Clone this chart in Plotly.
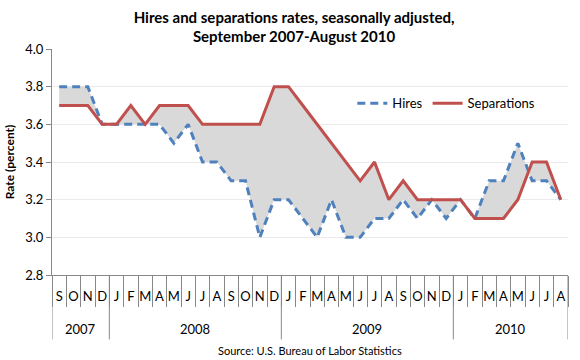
import plotly.graph_objects as go

years = ["2007"] * 4 + ["2008"] * 12 + ["2009"] * 12 + ["2010"] * 8
months = ["S", "O", "N", "D",
          "J", "F", "M", "A", "M", "J", "J", "A", "S", "O", "N", "D",
          "J", "F", "M", "A", "M", "J", "J", "A", "S", "O", "N", "D",
          "J", "F", "M", "A", "M", "J", "J", "A"]

hires = [3.8, 3.8, 3.8, 3.6,
         3.6, 3.6, 3.6, 3.6, 3.5, 3.6, 3.4, 3.4, 3.3, 3.3, 3.0, 3.2,
         3.2, 3.1, 3.0, 3.2, 3.0, 3.0, 3.1, 3.1, 3.2, 3.1, 3.2, 3.1,
         3.2, 3.1, 3.3, 3.3, 3.5, 3.3, 3.3, 3.2]
separations = [3.7, 3.7, 3.7, 3.6,
               3.6, 3.7, 3.6, 3.7, 3.7, 3.7, 3.6, 3.6, 3.6, 3.6, 3.6, 3.8,
               3.8, 3.7, 3.6, 3.5, 3.4, 3.3, 3.4, 3.2, 3.3, 3.2, 3.2, 3.2,
               3.2, 3.1, 3.1, 3.1, 3.2, 3.4, 3.4, 3.2]

idx = list(range(len(months)))
FONT = "Lato"
AXC = "#888888"

fig = go.Figure()
# shaded band between the two series
fig.add_trace(go.Scatter(x=idx, y=hires, mode="lines", line=dict(width=0),
                         showlegend=False, hoverinfo="skip"))
fig.add_trace(go.Scatter(x=idx, y=separations, mode="lines", line=dict(width=0),
                         fill="tonexty", fillcolor="#d9d9d9",
                         showlegend=False, hoverinfo="skip"))
fig.add_trace(go.Scatter(x=idx, y=hires, mode="lines", name="Hires",
                         line=dict(color="#4f81bd", width=3, dash="8px,5px")))
fig.add_trace(go.Scatter(x=idx, y=separations, mode="lines", name="Separations",
                         line=dict(color="#c0504d", width=3)))

fig.update_layout(
    width=580, height=360,
    margin=dict(l=52, r=12, t=49, b=85),
    paper_bgcolor="white", plot_bgcolor="white",
    font=dict(family=FONT, size=13, color="#000000"),
    title=dict(text="<b>Hires and separations rates, seasonally adjusted,<br>September 2007-August 2010</b>",
               x=0.507, xanchor="center", y=0.937, yanchor="top",
               font=dict(family=FONT, size=15, color="#000000")),
    legend=dict(orientation="h", traceorder="normal", x=0.582, y=0.76,
                xanchor="left", yanchor="middle",
                bgcolor="rgba(0,0,0,0)", font=dict(family=FONT, size=13)),
    showlegend=True,
)
fig.update_xaxes(range=[-0.5, len(months) - 0.5], tickmode="array", tickvals=idx,
                 ticktext=months, tickangle=0, ticks="", showline=True, automargin=False,
                 ticklabelstandoff=9,
                 linecolor=AXC, linewidth=1, showgrid=False, zeroline=False,
                 tickfont=dict(family=FONT, size=13),
                 minor=dict(tick0=-0.5, dtick=1, ticks="outside", ticklen=31,
                            tickcolor=AXC, showgrid=False))
fig.update_yaxes(range=[2.8, 4.0], dtick=0.2, tickformat=".1f", showline=True,
                 automargin=False,
                 linecolor=AXC, linewidth=1, ticks="outside", ticklen=5,
                 tickcolor=AXC, showgrid=True, gridcolor="#ebebeb", zeroline=False,
                 tickfont=dict(family=FONT, size=13),
                 title=dict(text="<b>Rate (percent)</b>", standoff=8,
                            font=dict(family=FONT, size=12)))

# year groups: dividers and labels derived from the years list
groups = []
for i, y in enumerate(years):
    if not groups or groups[-1][0] != y:
        groups.append([y, i, i])
    else:
        groups[-1][2] = i
bounds = [g[1] - 0.5 for g in groups] + [groups[-1][2] + 0.5]
for b in bounds:
    fig.add_shape(type="line", xref="x", yref="paper", x0=b, x1=b, y0=0, y1=-0.285,
                  line=dict(color=AXC, width=1))
for y, a, b in groups:
    fig.add_annotation(text=y, xref="x", yref="paper", x=(a + b) / 2, y=-0.24,
                       xanchor="center", yanchor="middle", showarrow=False,
                       font=dict(family=FONT, size=13))

fig.add_annotation(text="Source: U.S. Bureau of Labor Statistics", xref="paper", yref="paper",
                   x=0.5, y=-0.332, xanchor="center", yanchor="middle", showarrow=False,
                   font=dict(family=FONT, size=11))

fig.write_html("out.html", config={"displayModeBar": False},
               post_script="document.body.style.margin='0';")
